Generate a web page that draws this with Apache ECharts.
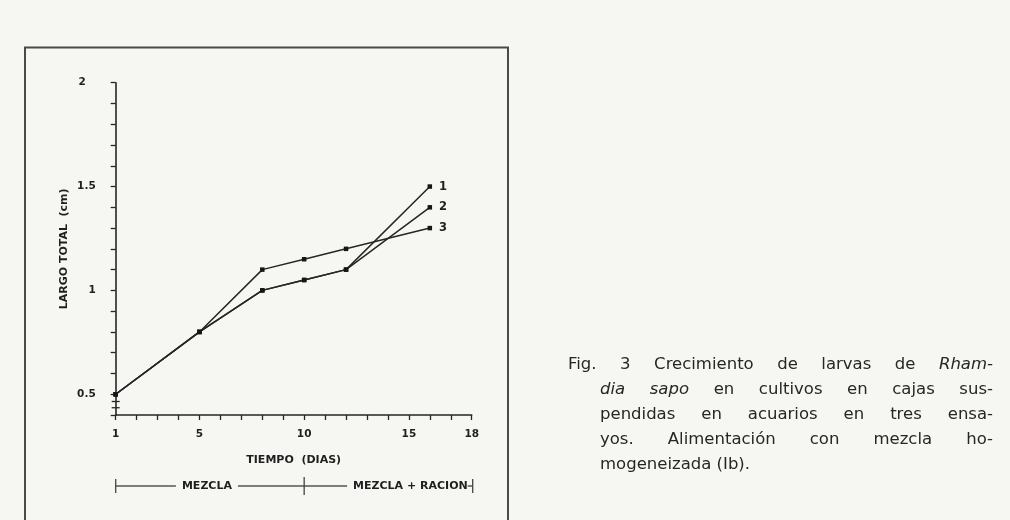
<!DOCTYPE html>
<html>
<head>
<meta charset="utf-8">
<script src="https://cdn.jsdelivr.net/npm/echarts@6/dist/echarts.min.js"></script>
<style>
    html, body { margin: 0; padding: 0; background: #f6f6f3; }
    #wrap { position: relative; width: 1010px; height: 520px; overflow: hidden; }
    #growth-chart { position: absolute; left: 0; top: 0; width: 1010px; height: 520px; }
    #caption {
        position: absolute; left: 568px; top: 351px; width: 425px;
        font-family: "DejaVu Sans", sans-serif; font-size: 16.5px; line-height: 25px; color: #262626;
    }
    #caption div { text-align: justify; text-align-last: justify; white-space: normal; }
    #caption div.ind { margin-left: 32px; }
    #caption div.last { text-align-last: left; }
</style>
</head>
<body>
<div id="wrap">
    <div id="growth-chart"></div>
    <div id="caption">
        <div>Fig. 3 Crecimiento de larvas de <i>Rham-</i></div>
        <div class="ind"><i>dia sapo</i> en cultivos en cajas sus-</div>
        <div class="ind">pendidas en acuarios en tres ensa-</div>
        <div class="ind">yos. Alimentación con mezcla ho-</div>
        <div class="ind last">mogeneizada (Ib).</div>
    </div>
</div>
<script>
// days of culture and total length (cm) for the three trials
const days = [1, 5, 8, 10, 12, 16];
const ensayo1 = [0.5, 0.8, 1.0, 1.05, 1.1, 1.5];
const ensayo2 = [0.5, 0.8, 1.0, 1.05, 1.1, 1.4];
const ensayo3 = [0.5, 0.8, 1.1, 1.15, 1.2, 1.3];
const seriesNames = ['1', '2', '3'];

const xTickLabels = [1, 5, 10, 15, 18];
const yTickLabels = [0.5, 1, 1.5, 2];

// feeding phases along the time axis
const phaseNames = ['MEZCLA', 'MEZCLA + RACION'];
const phaseDays = [1, 10, 18];

// where the broken y axis is marked
const yBreak = [0.465, 0.435];

const ink = '#262626';
const paper = '#f6f6f3';
const labelFont = {fontFamily: 'DejaVu Sans', fontWeight: 'bold', fontSize: 10.5, color: '#1f1f1f'};

const chartDom = document.getElementById('growth-chart');
const myChart = echarts.init(chartDom);

function makeSeries(name, values) {
    return {
        name: name,
        type: 'line',
        data: days.map((d, i) => [d, values[i]]),
        symbol: 'rect',
        symbolSize: 4.5,
        showAllSymbol: true,
        lineStyle: {color: ink, width: 1.5},
        itemStyle: {color: '#161616'},
        label: Object.assign({
            show: true,
            position: 'right',
            distance: 7,
            formatter: p => p.dataIndex === days.length - 1 ? name : ''
        }, labelFont, {fontSize: 11.5}),
        emphasis: {disabled: true},
        animation: false
    };
}

const option = {
    backgroundColor: paper,
    grid: {left: 115.7, top: 82.7, right: 538.3, bottom: 105},
    xAxis: {
        type: 'value',
        min: 1,
        max: 18,
        interval: 1,
        name: 'TIEMPO  (DIAS)',
        nameLocation: 'middle',
        nameGap: 40,
        nameTextStyle: Object.assign({}, labelFont, {fontSize: 11}),
        axisLine: {lineStyle: {color: ink, width: 1.6}},
        axisTick: {length: 5, lineStyle: {color: ink, width: 1.3}},
        axisLabel: Object.assign({
            margin: 14,
            formatter: v => xTickLabels.includes(v) ? String(v) : ''
        }, labelFont),
        splitLine: {show: false}
    },
    yAxis: {
        type: 'value',
        min: 0.4,
        max: 2,
        interval: 0.1,
        name: 'LARGO TOTAL  (cm)',
        nameLocation: 'middle',
        nameRotate: 90,
        nameGap: 46,
        nameTextStyle: Object.assign({}, labelFont, {fontSize: 11}),
        axisLine: {show: true, lineStyle: {color: ink, width: 1.6}},
        axisTick: {show: true, length: 5, lineStyle: {color: ink, width: 1.3}},
        axisLabel: Object.assign({
            margin: 20,
            formatter: function (v) {
                const hit = yTickLabels.find(t => Math.abs(t - v) < 1e-6);
                if (hit === undefined) return '';
                return hit === 2 ? '{top|2}' : String(hit);
            },
            rich: {
                top: Object.assign({padding: [0, 10, 0, 0]}, labelFont)
            }
        }, labelFont),
        splitLine: {show: false}
    },
    series: [
        makeSeries(seriesNames[0], ensayo1),
        makeSeries(seriesNames[1], ensayo2),
        makeSeries(seriesNames[2], ensayo3)
    ]
};
myChart.setOption(option);

// decorations placed through the axes: axis break, phase bracket, frame
const px = d => myChart.convertToPixel({xAxisIndex: 0}, d);
const py = v => myChart.convertToPixel({yAxisIndex: 0}, v);

const x0 = px(phaseDays[0]);
const xMid = px(phaseDays[1]);
const xEnd = px(phaseDays[2]) + 1;
const by = 486;
const textStyle = {fontFamily: 'DejaVu Sans', fontWeight: 'bold', fontSize: 11, fill: '#1f1f1f'};

const graphic = [
    {
        type: 'rect', silent: true,
        shape: {x: 25, y: 47.5, width: 483, height: 500},
        style: {fill: null, stroke: '#4a4a4a', lineWidth: 2}
    },
    ...yBreak.map(v => ({
        type: 'line', silent: true,
        shape: {x1: x0 - 4, y1: py(v), x2: x0 + 4, y2: py(v)},
        style: {stroke: ink, lineWidth: 1.3}
    })),
    {
        type: 'line', silent: true,
        shape: {x1: x0, y1: by, x2: xEnd, y2: by},
        style: {stroke: '#555', lineWidth: 1.3}
    },
    ...[x0, xMid, xEnd].map((x, i) => ({
        type: 'line', silent: true,
        shape: {x1: x, y1: i === 1 ? by - 9 : by - 7, x2: x, y2: i === 1 ? by + 9 : by + 7},
        style: {stroke: '#444', lineWidth: 1.3}
    })),
    {
        type: 'text', silent: true, z: 10,
        x: (x0 + xMid) / 2 - 3, y: by,
        style: Object.assign({
            text: phaseNames[0], align: 'center', verticalAlign: 'middle',
            backgroundColor: paper, padding: [0, 6]
        }, textStyle)
    },
    {
        type: 'text', silent: true, z: 10,
        x: xEnd - 5, y: by,
        style: Object.assign({
            text: phaseNames[1], align: 'right', verticalAlign: 'middle',
            backgroundColor: paper, padding: [0, 0, 0, 6]
        }, textStyle)
    }
];
myChart.setOption({graphic: graphic});

window.addEventListener('resize', function () {
    myChart.resize();
});
</script>
</body>
</html>
